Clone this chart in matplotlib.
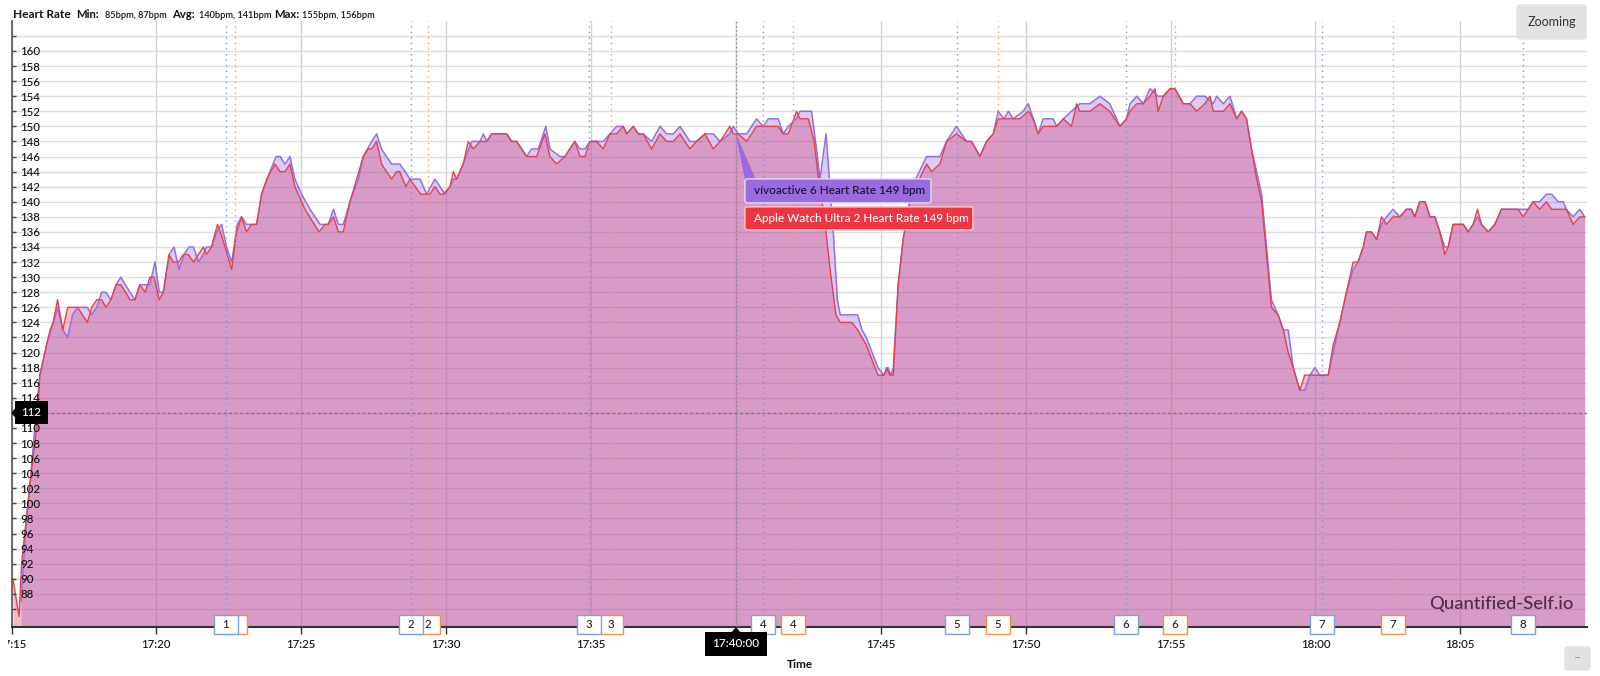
import matplotlib.pyplot as plt
from matplotlib.patches import Rectangle, FancyBboxPatch, Polygon
from matplotlib.transforms import Bbox, TransformedBbox, IdentityTransform

plt.rcParams['font.family'] = ['Lato', 'DejaVu Sans']

# time in minutes after 17:15, heart rate in bpm
apple_min = [0.05, 0.26, 0.35, 0.40, 0.57, 0.74, 0.87, 0.98, 1.21, 1.33, 1.44, 1.59, 1.77, 1.94, 2.28, 2.62,
             2.77, 2.94, 3.11, 3.26, 3.43, 3.61, 3.77, 3.94, 4.09, 4.26, 4.43, 4.61, 4.78, 4.92, 5.10, 5.24,
             5.44, 5.58, 5.76, 5.93, 6.10, 6.28, 6.62, 6.73, 6.90, 7.11, 7.29, 7.60, 7.77, 7.94, 8.11, 8.29,
             8.46, 8.63, 8.81, 9.09, 9.27, 9.44, 9.61, 9.78, 10.13, 10.61, 10.82, 10.93, 11.11, 11.28, 11.45,
             11.68, 12.14, 12.31, 12.43, 12.60, 12.77, 13.12, 13.29, 13.40, 13.61, 13.75, 14.12, 14.44, 14.61,
             14.79, 14.90, 15.13, 15.25, 15.36, 15.59, 15.76, 15.94, 16.17, 16.40, 16.57, 17.09, 17.26, 17.43,
             17.78, 18.12, 18.41, 18.58, 18.81, 19.10, 19.44, 19.62, 19.79, 19.96, 20.19, 20.42, 20.65, 20.88,
             21.11, 21.23, 21.46, 21.63, 21.80, 22.09, 22.38, 22.61, 22.84, 23.07, 23.41, 23.64, 23.93, 24.22,
             24.45, 24.79, 24.91, 25.08, 25.37, 25.71, 26.12, 26.46, 26.63, 26.81, 27.09, 27.21, 27.50, 27.70,
             27.85, 28.05, 28.25, 28.45, 28.60, 28.80, 29.00, 29.20, 29.35, 29.50, 29.70, 29.90, 30.11, 30.20,
             30.31, 30.43, 30.60, 30.77, 31.00, 31.20, 31.33, 31.58, 31.75, 32.04, 32.27, 32.61, 32.96, 33.13,
             33.42, 33.65, 33.88, 34.05, 34.80, 35.09, 35.26, 35.43, 35.60, 36.07, 36.30, 36.58, 36.76, 36.87,
             37.22, 37.56, 37.90, 38.25, 38.48, 38.60, 38.83, 39.06, 39.29, 39.46, 39.57, 39.75, 39.98, 40.15,
             40.44, 40.67, 40.90, 41.18, 41.36, 41.47, 41.82, 42.05, 42.28, 42.45, 42.62, 42.79, 42.97, 43.14,
             43.31, 43.48, 43.71, 43.89, 44.06, 44.23, 44.46, 44.63, 44.81, 44.98, 45.15, 45.44, 45.61, 45.84,
             46.07, 46.30, 46.47, 46.65, 46.76, 46.93, 47.11, 47.28, 47.45, 47.68, 47.91, 48.14, 48.31, 48.43,
             48.60, 48.78, 48.95, 49.12, 49.29, 49.46, 49.58, 49.75, 50.10, 50.27, 50.44, 50.59, 50.73, 50.96,
             51.19, 51.42, 51.99, 52.17, 52.34, 52.51, 52.74, 52.97, 53.15, 53.38, 53.55, 53.66, 53.89, 54.12,
             54.29]
apple_bpm = [90, 85, 92, 94, 100, 106, 110, 117, 121, 123, 124, 127, 123, 126, 126, 124,
             126, 127, 127, 126, 127, 129, 129, 128, 127, 127, 129, 128, 130, 130, 127, 128,
             133, 132, 132, 133, 133, 132, 134, 133, 134, 137, 135, 131, 136, 138, 136, 137,
             137, 141, 143, 145, 144, 144, 145, 142, 139, 136, 137, 137, 138, 136, 136,
             140, 146, 147, 147, 148, 145, 143, 144, 144, 142, 143, 141, 141, 142,
             141, 141, 142, 144, 143, 145, 148, 147, 148, 148, 149, 149, 148, 148,
             146, 146, 149, 146, 145, 146, 148, 146, 146, 148, 148, 147, 149, 149,
             150, 149, 150, 149, 149, 147, 149, 148, 148, 149, 147, 148, 149, 147,
             148, 150, 149, 149, 148, 150, 150, 150, 149, 149, 152, 151, 151, 148,
             143, 138, 131, 125, 124, 124, 124, 123, 122, 121, 119, 117, 117, 118,
             117, 117, 129, 135, 140, 142, 143, 145, 144, 145, 148, 149, 148, 148,
             146, 148, 149, 151, 151, 152, 151, 149, 150, 150, 151, 150, 153, 152,
             152, 153, 152, 150, 151, 152, 153, 153, 154, 155, 152, 154, 155, 155,
             153, 153, 152, 153, 154, 152, 152, 153, 151, 152, 151, 147, 143, 140,
             133, 126, 125, 123, 120, 118, 115, 117, 117, 117, 117, 117, 121, 124,
             128, 132, 132, 134, 136, 136, 135, 138, 137, 138, 138, 139, 139, 138,
             140, 140, 138, 138, 136, 133, 134, 137, 137, 136, 137, 139, 137, 136,
             137, 139, 139, 138, 139, 140, 139, 140, 139, 139, 139, 139, 137, 138,
             138]

vivo_min = [0.33, 0.50, 0.67, 0.85, 0.98, 1.21, 1.44, 1.59, 1.77, 1.94, 2.11, 2.28, 2.62, 2.77, 2.94, 3.11,
            3.26, 3.43, 3.61, 3.77, 4.09, 4.26, 4.43, 4.61, 4.78, 4.95, 5.10, 5.24, 5.44, 5.61, 5.78, 5.95,
            6.13, 6.28, 6.45, 6.62, 6.73, 6.90, 7.08, 7.25, 7.42, 7.60, 7.79, 7.94, 8.11, 8.46, 8.63, 8.92,
            9.13, 9.27, 9.44, 9.61, 9.78, 10.01, 10.30, 10.65, 10.93, 11.11, 11.28, 11.45, 11.68, 11.97, 12.14,
            12.43, 12.60, 12.77, 12.94, 13.12, 13.40, 13.58, 13.75, 14.10, 14.33, 14.61, 14.79, 14.96, 15.13,
            15.25, 15.36, 15.59, 15.88, 16.17, 16.28, 16.40, 16.57, 17.09, 17.26, 17.43, 17.78, 17.95, 18.18,
            18.44, 18.58, 18.93, 19.10, 19.44, 19.62, 19.79, 19.96, 20.19, 20.42, 20.65, 20.88, 21.11, 21.23,
            21.46, 21.63, 21.80, 22.09, 22.38, 22.61, 22.84, 23.07, 23.41, 23.64, 23.93, 24.22, 24.45, 24.79,
            24.91, 25.08, 25.37, 25.71, 25.94, 26.12, 26.46, 26.63, 26.81, 27.09, 27.21, 27.61, 27.78, 27.90,
            28.11, 28.36, 28.50, 28.60, 29.00, 29.20, 29.35, 29.50, 29.70, 29.90, 30.11, 30.25, 30.35, 30.43,
            30.60, 30.77, 31.00, 31.20, 31.33, 31.58, 31.75, 32.04, 32.27, 32.61, 32.96, 33.13, 33.42, 33.65,
            33.88, 34.05, 34.25, 34.40, 34.57, 34.91, 35.09, 35.26, 35.43, 35.60, 35.95, 36.07, 36.30, 36.58,
            36.87, 37.22, 37.56, 37.90, 38.25, 38.48, 38.60, 38.83, 39.06, 39.29, 39.57, 39.75, 39.98, 40.15,
            40.44, 40.67, 40.90, 41.18, 41.47, 41.59, 41.82, 42.05, 42.28, 42.45, 42.62, 42.79, 42.97, 43.14,
            43.31, 43.48, 43.71, 43.89, 44.06, 44.23, 44.46, 44.63, 44.81, 44.98, 45.15, 45.44, 45.61, 45.84,
            46.07, 46.30, 46.47, 46.65, 46.76, 46.93, 47.11, 47.28, 47.45, 47.68, 47.91, 48.14, 48.31, 48.43,
            48.60, 48.78, 48.95, 49.12, 49.29, 49.46, 49.58, 49.75, 50.10, 50.27, 50.44, 50.59, 50.73, 50.96,
            51.19, 51.42, 51.99, 52.17, 52.34, 52.51, 52.74, 52.97, 53.15, 53.38, 53.55, 53.66, 53.89, 54.12,
            54.29]
vivo_bpm = [87, 97, 104, 112, 117, 121, 124, 126, 123, 122, 125, 126, 126, 125, 126, 128,
            128, 127, 129, 130, 128, 127, 129, 129, 129, 132, 128, 128, 133, 134, 131, 133,
            134, 134, 132, 133, 134, 134, 136, 137, 134, 132, 137, 138, 137, 137, 141, 144,
            146, 146, 145, 146, 143, 141, 139, 137, 137, 139, 137, 137, 140, 143, 146,
            148, 149, 147, 146, 145, 145, 144, 143, 143, 141, 143, 142, 141, 142,
            143, 143, 145, 148, 148, 149, 148, 149, 149, 148, 148, 146, 147, 147,
            150, 147, 146, 146, 148, 147, 147, 148, 148, 148, 149, 150, 150, 149,
            150, 149, 149, 148, 150, 149, 149, 150, 148, 148, 149, 149, 148, 149,
            150, 149, 149, 151, 150, 151, 151, 149, 150, 151, 152, 152, 147, 143,
            149, 136, 127, 125, 125, 125, 123, 122, 120, 118, 117, 118, 117, 118,
            129, 135, 140, 143, 144, 146, 146, 146, 148, 150, 148, 148, 146, 148,
            149, 152, 151, 152, 151, 152, 153, 151, 149, 151, 151, 150, 151, 152,
            153, 153, 154, 153, 150, 151, 153, 154, 153, 155, 154, 154, 155, 155,
            153, 153, 154, 154, 153, 154, 153, 154, 151, 152, 151, 147, 144, 141,
            134, 127, 125, 123, 123, 118, 115, 115, 117, 118, 117, 117, 120, 124,
            128, 131, 132, 134, 136, 136, 135, 137, 138, 139, 138, 139, 139, 138,
            140, 140, 138, 138, 136, 134, 134, 137, 137, 136, 137, 138, 137, 136,
            137, 139, 139, 139, 139, 140, 140, 141, 141, 140, 140, 139, 138, 139,
            138]

x_ticks = [0, 5, 10, 15, 20, 25, 30, 35, 40, 45, 50]
x_labels = ['17:15', '17:20', '17:25', '17:30', '17:35', '17:40', '17:45', '17:50', '17:55', '18:00', '18:05']

vivo_laps = [7.40, 13.79, 19.93, 25.93, 32.63, 38.46, 45.22, 52.16]
apple_laps = [7.71, 14.37, 20.69, 26.97, 34.04, 40.15, 47.67]

cursor_min = 25.0
cursor_label = '17:40:00'
cursor_bpm = 112
hover_vivo = 149
hover_apple = 149

W, H = 1600, 676
fig = plt.figure(figsize=(W / 100, H / 100), dpi=100)
ymin, ymax = 83.6, 164
ax = fig.add_axes([11.5 / W, 1 - 627 / H, (1587 - 11.5) / W, (627 - 20.8) / H])
ax.set_xlim(0, 54.37)
ax.set_ylim(ymin, ymax)

purple = '#9170e4'
red = '#e8404a'
ax.fill_between(vivo_min, vivo_bpm, ymin, color='#8f5fe8', alpha=0.32, lw=0, zorder=2)
ax.fill_between(apple_min, apple_bpm, ymin, color='#d4406f', alpha=0.35, lw=0, zorder=2)
ax.plot(vivo_min, vivo_bpm, color=purple, lw=1.1, zorder=3)
ax.plot(apple_min, apple_bpm, color=red, lw=1.0, zorder=3)

# grid drawn under the fills, axis (ticks + labels) above them
yt = list(range(86, 164, 2))
for v in yt:
    ax.axhline(v, color='#dedede', lw=1, zorder=1)
for v in x_ticks:
    ax.axvline(v, color='#d4d4d4', lw=1, zorder=1)
ax.set_axisbelow(False)
ax.yaxis.set_zorder(4.5)
ax.set_yticks(yt)
ax.set_yticklabels([str(v) if 88 <= v <= 160 else '' for v in yt], fontweight='medium')
ax.set_xticks(x_ticks)
ax.set_xticklabels(x_labels, fontweight='medium')
ax.tick_params(axis='y', direction='in', length=3, width=1, color='#444', pad=-6.5,
               labelsize=8.3, labelcolor='#111')
plt.setp(ax.get_yticklabels(), ha='left')
ax.tick_params(axis='x', direction='out', length=5, width=1, color='#333', pad=4,
               labelsize=8.3, labelcolor='#111')
for s in ['top', 'right']:
    ax.spines[s].set_visible(False)
ax.spines['left'].set_color('#555')
ax.spines['left'].set_linewidth(1.2)
ax.spines['bottom'].set_color('#333')
ax.spines['bottom'].set_linewidth(1.5)

xlbls = ax.get_xticklabels()
# the first label is cut by the chart container, the cursor hides the one under it
xlbls[0].set_clip_box(TransformedBbox(Bbox([[8, 0], [W, H]]), IdentityTransform()))
xlbls[0].set_clip_on(True)
for lbl, t in zip(xlbls, x_ticks):
    if t == cursor_min:
        lbl.set_visible(False)

# lap markers
xt = ax.get_xaxis_transform()
bw = 24 / 28.98
z = 6
for laps, c, ec in [(apple_laps, '#f39a55', '#f0904a'), (vivo_laps, '#6d9ad6', '#7aa3d6')]:
    for i, t in enumerate(laps):
        ax.axvline(t, color=c, ls=(0, (1, 3)), lw=1, zorder=4)
        ax.add_patch(Rectangle((t - bw / 2, -0.0116), bw, 0.0314, transform=xt, fc='white', ec=ec,
                               lw=1, zorder=z, clip_on=False))
        ax.text(t, 0.0041, str(i + 1), transform=xt, ha='center', va='center', fontsize=8.3,
                fontweight='medium', color='#222', zorder=z + 1, clip_on=False)
    z += 2

# crosshair
ax.axvline(cursor_min, color='#888', ls=(0, (1, 2)), lw=1, zorder=5)
ax.axhline(cursor_bpm, color='#777', ls=(0, (2, 2)), lw=1, zorder=5)
yt_tr = ax.get_yaxis_transform()
ax.add_patch(Rectangle((3.5 / 1575.5, cursor_bpm - 1.53), 33 / 1575.5, 3.06, transform=yt_tr,
                       fc='black', ec='none', zorder=12, clip_on=False))
ax.add_patch(Polygon([(0, cursor_bpm), (3.5 / 1575.5, cursor_bpm + 0.6), (3.5 / 1575.5, cursor_bpm - 0.6)],
                     transform=yt_tr, fc='black', ec='none', zorder=12, clip_on=False))
ax.text(20 / 1575.5, cursor_bpm, str(cursor_bpm), transform=yt_tr, ha='center', va='center',
        fontsize=8.3, fontweight='medium', color='white', zorder=13)
ax.add_patch(Rectangle((cursor_min - 1.07, -0.048), 2.14, 0.0397, transform=xt, fc='black', ec='none',
                       zorder=12, clip_on=False))
ax.add_patch(Polygon([(cursor_min, 0), (cursor_min - 0.15, -0.0085), (cursor_min + 0.15, -0.0085)],
                     transform=xt, fc='black', ec='none', zorder=12, clip_on=False))
ax.text(cursor_min, -0.028, cursor_label, transform=xt, ha='center', va='center', fontsize=8.5,
        fontweight='medium', color='white', zorder=13, clip_on=False)

# tooltip (pixel positions relative to the hovered point)
ax_px, ay_px = ax.transData.transform((cursor_min, hover_vivo))
px0, py0 = ax_px, H - ay_px  # from top


def fbox(x0, y0, x1, y1, fc, ec, z):
    p = FancyBboxPatch((x0 / W, 1 - y1 / H), (x1 - x0) / W, (y1 - y0) / H,
                       boxstyle='round,pad=0,rounding_size=0.0015', mutation_aspect=W / H,
                       transform=fig.transFigure, fc=fc, ec=ec, lw=1, zorder=z)
    fig.add_artist(p)


fig.add_artist(Polygon([(px0 / W, 1 - py0 / H), ((px0 + 9) / W, 1 - (py0 + 46) / H),
                        ((px0 + 20) / W, 1 - (py0 + 46) / H)], transform=fig.transFigure,
                       fc='#9a6ae0', ec='none', zorder=20))
fbox(px0 + 9, py0 + 45, px0 + 195, py0 + 69, '#9a6ae0', '#e6dcf8', 21)
fig.text((px0 + 18) / W, 1 - (py0 + 57) / H, 'vívoactive 6 Heart Rate %d bpm' % hover_vivo,
         fontsize=8.5, fontweight='medium', color='#15102a', va='center', zorder=22)
fbox(px0 + 9, py0 + 73, px0 + 237, py0 + 96, '#ef3541', '#f8c8cc', 21)
fig.text((px0 + 18) / W, 1 - (py0 + 84.5) / H, 'Apple Watch Ultra 2 Heart Rate %d bpm' % hover_apple,
         fontsize=8.5, fontweight='medium', color='white', va='center', zorder=22)

# title: pieces placed where they sit in the header
title_parts = [('Heart Rate', 'bold', 8.6, 13), ('Min:', 'bold', 8.1, 76), ('85bpm, 87bpm', 'semibold', 6.6, 105),
               ('Avg:', 'bold', 8.1, 172), ('140bpm, 141bpm', 'semibold', 6.6, 199), ('Max:', 'bold', 8.1, 274),
               ('155bpm, 156bpm', 'semibold', 6.6, 302)]
for s, w, size, x in title_parts:
    fig.text(x / W, 1 - 18 / H, s, fontsize=size, fontweight=w, color='#111', va='baseline')

# watermark, axis label, buttons
fig.text(1573 / W, 1 - 604 / H, 'Quantified-Self.io', ha='right', va='center', fontsize=13.3,
         fontweight='medium', color='#351a2c', alpha=0.85, zorder=10)
fig.text(800 / W, 1 - 664 / H, 'Time', ha='center', va='center', fontsize=8.5, fontweight='bold', color='#111')
fbox(1517, 5, 1586, 39, '#e2e2e2', '#e2e2e2', 10)
fig.text(1551.5 / W, 1 - 22 / H, 'Zooming', ha='center', va='center', fontsize=9, color='#333', zorder=11)
fbox(1565, 647, 1590, 670, '#e2e2e2', '#e2e2e2', 10)
fig.text(1577.5 / W, 1 - 656 / H, '...', ha='center', va='center', fontsize=6, color='#333', zorder=11)

fig.savefig('out.png', dpi=100)
